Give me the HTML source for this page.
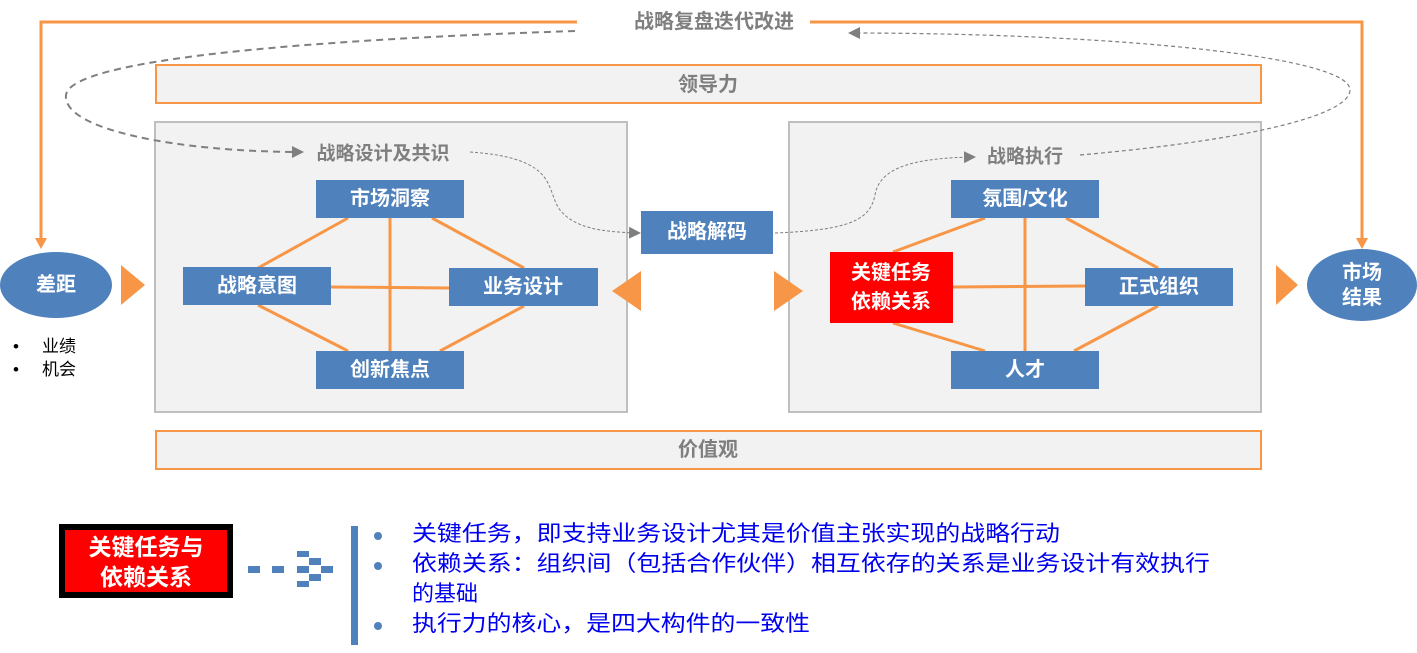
<!DOCTYPE html>
<html><head><meta charset="utf-8"><style>
html,body{margin:0;padding:0;background:#fff;}
svg{display:block;font-family:"Liberation Sans","Noto Sans CJK SC",sans-serif;}
.w{fill:#fff;font-weight:bold;font-size:20px;text-anchor:middle;dominant-baseline:central;}
.g{fill:#7f7f7f;font-weight:bold;font-size:20px;text-anchor:middle;dominant-baseline:central;}
.b{fill:#0000ee;font-size:22px;}
</style></head><body>
<svg width="1417" height="653" viewBox="0 0 1417 653">
<defs>
<marker id="ag" markerWidth="12" markerHeight="12" refX="10" refY="6" orient="auto" markerUnits="userSpaceOnUse"><path d="M0,0 L12,6 L0,12 z" fill="#7f7f7f"/></marker>
</defs>
<!-- top orange loop -->
<polyline points="577,22 41,22 41,240" fill="none" stroke="#f79646" stroke-width="3"/>
<path d="M35,238 L47,238 L41,249 z" fill="#f79646"/>
<polyline points="810,22 1362,22 1362,240" fill="none" stroke="#f79646" stroke-width="3"/>
<path d="M1356,238 L1368,238 L1362,249 z" fill="#f79646"/>
<text class="g" x="714" y="22">战略复盘迭代改进</text>
<!-- bars -->
<rect x="156" y="65" width="1105" height="38" fill="#f2f2f2" stroke="#f79646" stroke-width="2"/>
<text class="g" x="708" y="85">领导力</text>
<rect x="156" y="431" width="1105" height="38" fill="#f2f2f2" stroke="#f79646" stroke-width="2"/>
<text class="g" x="708" y="450">价值观</text>
<!-- panels -->
<rect x="155" y="122" width="472" height="290" fill="#f2f2f2" stroke="#bfbfbf" stroke-width="2"/>
<rect x="789" y="122" width="472" height="290" fill="#f2f2f2" stroke="#bfbfbf" stroke-width="2"/>
<!-- dashed loops (drawn over panels) -->
<path d="M575,31 C300,40 70,60 66,95 C62,130 180,152 302,152" fill="none" stroke="#7f7f7f" stroke-width="2" stroke-dasharray="7,5" marker-end="url(#ag)"/>
<path d="M1080,155 C1250,140 1350,115 1350,90 C1350,55 1100,33 850,33" fill="none" stroke="#7f7f7f" stroke-width="1.2" stroke-dasharray="4,3" marker-end="url(#ag)"/>
<text class="g" x="383" y="154" style="font-size:19px">战略设计及共识</text>
<text class="g" x="1025" y="157" style="font-size:19px">战略执行</text>
<path d="M470,152 C560,158 545,190 560,210 C575,228 600,232 639,233" fill="none" stroke="#7f7f7f" stroke-width="1" stroke-dasharray="3,2" marker-end="url(#ag)"/>
<path d="M775,233 C850,230 870,220 875,195 C880,165 920,158 974,157" fill="none" stroke="#7f7f7f" stroke-width="1" stroke-dasharray="3,2" marker-end="url(#ag)"/>
<!-- lines -->
<g stroke="#f79646" stroke-width="3">
<line x1="348" y1="218" x2="258" y2="268"/><line x1="390" y1="218" x2="390" y2="351"/><line x1="432" y1="218" x2="524" y2="268"/>
<line x1="331" y1="287" x2="449" y2="288"/><line x1="258" y1="305" x2="348" y2="351"/><line x1="524" y1="306" x2="440" y2="351"/>
<line x1="985" y1="218" x2="893" y2="252"/><line x1="1025" y1="218" x2="1025" y2="351"/><line x1="1066" y1="218" x2="1158" y2="268"/>
<line x1="953" y1="287" x2="1085" y2="286"/><line x1="893" y1="323" x2="985" y2="351"/><line x1="1158" y1="306" x2="1074" y2="351"/>
</g>
<!-- left nodes -->
<rect x="316" y="180" width="148" height="38" fill="#4f81bd"/><text class="w" x="390" y="199">市场洞察</text>
<rect x="183" y="267" width="148" height="38" fill="#4f81bd"/><text class="w" x="257" y="286">战略意图</text>
<rect x="449" y="268" width="149" height="38" fill="#4f81bd"/><text class="w" x="523" y="287">业务设计</text>
<rect x="316" y="351" width="148" height="38" fill="#4f81bd"/><text class="w" x="390" y="370">创新焦点</text>
<rect x="641" y="211" width="132" height="43" fill="#4f81bd"/><text class="w" x="707" y="232">战略解码</text>
<!-- right nodes -->
<rect x="951" y="180" width="148" height="38" fill="#4f81bd"/><text class="w" x="1025" y="199">氛围/文化</text>
<rect x="830" y="252" width="123" height="71" fill="#ff0000"/><text class="w" x="891" y="273">关键任务</text><text class="w" x="891" y="302">依赖关系</text>
<rect x="1085" y="268" width="148" height="38" fill="#4f81bd"/><text class="w" x="1159" y="287">正式组织</text>
<rect x="951" y="351" width="148" height="38" fill="#4f81bd"/><text class="w" x="1025" y="370">人才</text>
<!-- ellipses -->
<ellipse cx="56" cy="285" rx="56" ry="33" fill="#4f81bd"/><text class="w" x="56" y="285">差距</text>
<ellipse cx="1362" cy="285" rx="55" ry="36" fill="#4f81bd"/><text class="w" x="1362" y="273">市场</text><text class="w" x="1362" y="298">结果</text>
<!-- triangles -->
<g fill="#f79646">
<path d="M121,265 L145,285 L121,305 z"/><path d="M641,271 L612,291 L641,311 z"/>
<path d="M774,271 L803,291 L774,311 z"/><path d="M1276,265 L1298,285 L1276,305 z"/>
</g>
<g style="font-size:17px" fill="#000"><text x="13" y="352">•</text><text x="42" y="352">业绩</text><text x="13" y="375">•</text><text x="42" y="375">机会</text></g>
<!-- bottom -->
<rect x="59" y="524" width="174" height="74" fill="#000"/>
<rect x="65" y="530" width="162" height="62" fill="#ff0000"/>
<text class="w" x="146" y="547" style="font-size:23px">关键任务与</text>
<text class="w" x="146" y="577" style="font-size:23px">依赖关系</text>
<g fill="#4f81bd">
<rect x="248" y="566" width="12" height="7"/><rect x="272" y="566" width="12" height="7"/>
<rect x="297" y="551" width="12" height="6"/><rect x="297" y="566" width="12" height="7"/><rect x="297" y="581" width="12" height="6"/>
<rect x="309" y="558" width="12" height="7"/><rect x="309" y="574" width="12" height="7"/><rect x="321" y="566" width="12" height="7"/>
<rect x="351" y="526" width="7" height="119"/>
<circle cx="378" cy="536" r="4"/><circle cx="378" cy="566" r="4"/><circle cx="378" cy="626" r="4"/>
</g>
<text class="b" x="412" y="541" textLength="648" lengthAdjust="spacingAndGlyphs">关键任务，即支持业务设计尤其是价值主张实现的战略行动</text>
<text class="b" x="412" y="571" textLength="798" lengthAdjust="spacingAndGlyphs">依赖关系：组织间（包括合作伙伴）相互依存的关系是业务设计有效执行</text>
<text class="b" x="412" y="601">的基础</text>
<text class="b" x="412" y="631" textLength="398" lengthAdjust="spacingAndGlyphs">执行力的核心，是四大构件的一致性</text>
</svg>
</body></html>
